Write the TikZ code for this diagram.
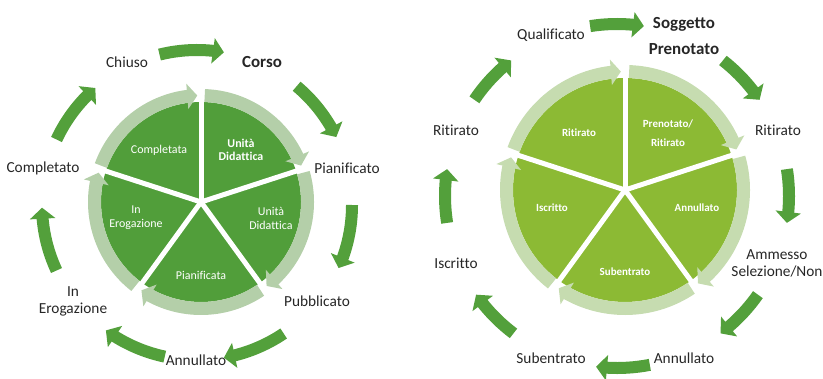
\documentclass[tikz,border=0pt]{standalone}
\usepackage{fontspec}
\setmainfont{Carlito}[Ligatures=CommonOff]
\usetikzlibrary{arrows.meta,bending}

\definecolor{arrowgreen}{HTML}{53A03B}
\definecolor{piegreen}{HTML}{519E3A}
\definecolor{ringgreen}{HTML}{B4CFA9}
\definecolor{piegreenB}{HTML}{8CBA34}
\definecolor{ringgreenB}{HTML}{C6DCB0}
\definecolor{labeltext}{HTML}{262626}

\tikzset{
  cyclearrow/.style={draw=arrowgreen, line width=12bp, -{Triangle[width=25bp,length=11bp]}},
  ringarrow/.style={line width=13bp, -{Triangle[width=25bp,length=10bp]}},
  gapline/.style={white, line width=5bp},
  statelabel/.style={text=labeltext, font=\fontsize{15.4}{17}\selectfont, align=center, inner sep=0pt},
  titlelabel/.style={statelabel, font=\fontsize{17}{26}\selectfont\bfseries},
  phaselabel/.style={text=white, font=\fontsize{12}{14}\selectfont, align=center, inner sep=0pt},
  phaselabelB/.style={text=white, font=\fontsize{11}{19}\selectfont\bfseries, align=center, inner sep=0pt},
}

\begin{document}
\begin{tikzpicture}[x=1bp, y=1bp]
  \useasboundingbox (0,0) rectangle (823,378);

  % left cycle: Corso
  \begin{scope}[shift={(201,176)}]
    \fill[piegreen] (0,0) circle[radius=100bp];
    \foreach \a in {90,18,...,-198}
      \draw[gapline] (0,0) -- (\a:116bp);
    \foreach \a in {90,18,...,-198}
      \draw[ringarrow, draw=ringgreen] ({\a-2}:106.5bp) arc[start angle=\a-2, end angle=\a-70, radius=106.5bp];

    % phases
    \node[phaselabel] (completata) at (-42,52) {Completata};
    \node[phaselabel, font=\fontsize{12}{13.5}\selectfont\bfseries] (unitaA) at (40,52) {Unità\\Didattica};
    \node[phaselabel] (unitaB) at (70,-16) {Unità\\Didattica};
    \node[phaselabel] (pianificata) at (0,-73) {Pianificata};
    \node[phaselabel] (erogazioneA) at (-65,-16) {In\\Erogazione};

    % states
    \node[titlelabel] (corso) at (61,140) {Corso};
    \node[statelabel] (pianificato) at (146,34) {Pianificato};
    \node[statelabel] (pubblicato) at (116,-99) {Pubblicato};
    \node[statelabel] (annullatoA) at (-5,-158) {Annullato};
    \node[statelabel] (erogazioneB) at (-128,-99) {In\\Erogazione};
    \node[statelabel] (completato) at (-158,34) {Completato};
    \node[statelabel] (chiuso) at (-74,140) {Chiuso};

    \begin{scope}[shift={(-4,-3)}]
      \foreach \m in {92,38,-12,-68,-114,-167,143}
        \draw[cyclearrow] ({\m+12}:155bp) arc[start angle=\m+12, end angle=\m-12, radius=155bp];
    \end{scope}
  \end{scope}

  % right cycle: Soggetto
  \begin{scope}[shift={(625,188)}]
    \fill[piegreenB] (0,0) circle[radius=112bp];
    \foreach \a in {90,18,...,-198}
      \draw[gapline] (0,0) -- (\a:128bp);
    \foreach \a in {90,18,...,-198}
      \draw[ringarrow, draw=ringgreenB] ({\a-2}:118.5bp) arc[start angle=\a-2, end angle=\a-70, radius=118.5bp];

    % phases
    \node[phaselabelB] (ritiratoA) at (-46,57) {Ritirato};
    \node[phaselabelB] (prenotatoA) at (43,57) {Prenotato/\\Ritirato};
    \node[phaselabelB] (annullatoB) at (72,-18) {Annullato};
    \node[phaselabelB] (subentratoA) at (0,-82) {Subentrato};
    \node[phaselabelB] (iscrittoA) at (-73,-18) {Iscritto};

    % states
    \node[titlelabel] (soggetto) at (59,154) {Soggetto\\Prenotato};
    \node[statelabel] (ritiratoB) at (153,60) {Ritirato};
    \node[statelabel] (ammesso) at (152,-73) {Ammesso\\Selezione/Non};
    \node[statelabel] (annullatoC) at (59,-168) {Annullato};
    \node[statelabel] (subentratoB) at (-74,-168) {Subentrato};
    \node[statelabel] (iscrittoB) at (-169,-73) {Iscritto};
    \node[statelabel] (ritiratoC) at (-169,60) {Ritirato};
    \node[statelabel] (qualificato) at (-74,155) {Qualificato};

    \begin{scope}[shift={(-8,-6)}]
      \foreach \m in {90,43,0,-44,-88,-136,180,137}
        \draw[cyclearrow] ({\m+9}:172bp) arc[start angle=\m+9, end angle=\m-9, radius=172bp];
    \end{scope}
  \end{scope}
\end{tikzpicture}
\end{document}
